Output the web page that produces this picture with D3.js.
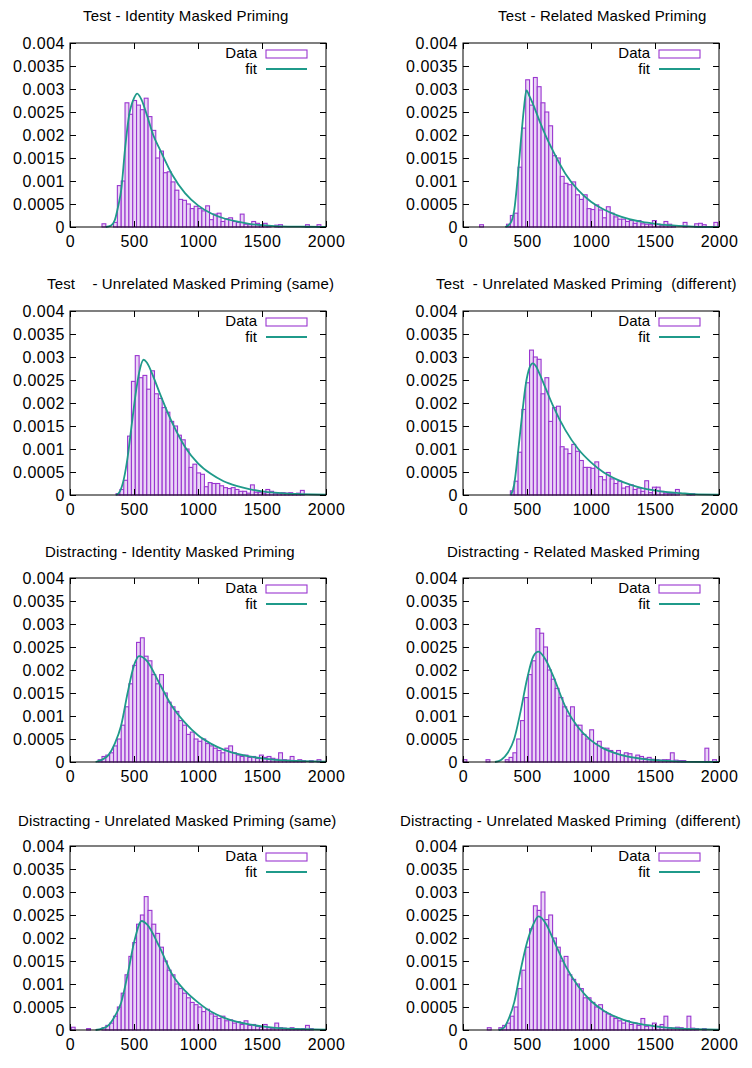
<!DOCTYPE html>
<html><head><meta charset="utf-8">
<script src="https://cdn.jsdelivr.net/npm/d3@7"></script>
<style>body{margin:0;background:#fff} text{font-family:"Liberation Sans",Arial,sans-serif;fill:#000}</style>
</head><body><svg id="c" width="752" height="1068"></svg>
<script>
// ---------- data ----------
const titles = [
  "Test - Identity Masked Priming",
  "Test - Related Masked Priming",
  "Test    - Unrelated Masked Priming (same)",
  "Test  - Unrelated Masked Priming  (different)",
  "Distracting - Identity Masked Priming",
  "Distracting - Related Masked Priming",
  "Distracting - Unrelated Masked Priming (same)",
  "Distracting - Unrelated Masked Priming  (different)"
];
const legendLabels = ["Data", "fit"];
const xTicks = [0, 500, 1000, 1500, 2000];
const xTickLabels = ["0", "500", "1000", "1500", "2000"];
const yTicks = [0, 0.0005, 0.001, 0.0015, 0.002, 0.0025, 0.003, 0.0035, 0.004];
const yTickLabels = ["0", "0.0005", "0.001", "0.0015", "0.002", "0.0025", "0.003", "0.0035", "0.004"];
const binWidth = 30;

// histogram bins: first bin left edge, then densities per 30 ms bin
const binStarts = [250, 130, 360, 370, 220, 0, 10, 190];
const hist1 = [0.00007,0,0,0.0001,0.0009,0.001,0.0027,0.00245,0.00275,0.00265,0.00255,0.0028,0.0024,0.0021,0.0015,0.00165,0.00118,0.0012,0.00098,0.0008,0.0006,0.00058,0.0005,0.0004,0.00045,0.0004,0.00035,0.00046,0.00016,0.00028,0.0003,0.00012,0.00018,0.0002,0.00012,0.0001,0.00028,0.00006,0.00005,0.00012,0.00008,0.00004,0.00008,0.00003,0,0.00004,0.00005,0,0,0,0,0,0,0.00005,0,0,0.00005];
const hist2 = [0.00005,0,0,0,0,0,0,0.00006,0.00025,0.0003,0.0013,0.00215,0.0032,0.00265,0.00325,0.00305,0.0027,0.0025,0.0022,0.00155,0.0015,0.0011,0.00095,0.00092,0.00098,0.0007,0.0006,0.0007,0.0004,0.00038,0.00048,0.00037,0.0002,0.00044,0.0003,0.00022,0.00017,0.00017,0.00012,0.00014,0.00008,0.00014,0.00007,0.00006,0.00005,0.00014,0.00006,0.00004,0.00012,0.00006,0.00003,0,0,0.0001,0,0,0.00007,0.00008,0.00005,0,0,0.0001];
const hist3 = [0.00003,0.00012,0.00032,0.00128,0.00247,0.00303,0.00255,0.0026,0.0023,0.0027,0.0022,0.0021,0.0019,0.0018,0.0016,0.0015,0.0013,0.0012,0.001,0.0006,0.00067,0.00048,0.00045,0.00018,0.00027,0.00025,0.00025,0.0002,0.00016,0.00014,0.00016,0.00012,0.00008,0.00008,0.00004,0.00022,0.00006,0.00006,0.00004,0.00012,0.00008,0.00004,0.00004,0.00005,0.00004,0.00005,0.00003,0.00004,0.0001];
const hist4 = [0.00009,0.0003,0.00093,0.00186,0.00244,0.00315,0.003,0.00295,0.0022,0.00255,0.0016,0.0019,0.00193,0.00105,0.001,0.0009,0.0011,0.00095,0.00075,0.0006,0.0006,0.00058,0.00072,0.0004,0.00033,0.00049,0.00035,0.00025,0.0003,0.00015,0.00018,0.00022,0.00012,0.00015,0.00008,0.00031,0.00005,0.00017,0.00017,0.00008,0.00004,0.00003,0.00003,0.00012,0,0,0.00003,0.00003];
const hist5 = [0.00005,0.00012,0.00015,0.0002,0.00035,0.0005,0.0008,0.0012,0.0017,0.0021,0.0026,0.0027,0.0023,0.0022,0.0019,0.0017,0.0019,0.0015,0.0013,0.0012,0.0011,0.0009,0.0008,0.0006,0.00065,0.0005,0.00045,0.0005,0.0004,0.00035,0.0003,0.00025,0.0002,0.0003,0.00035,0.0002,0.00015,0.00012,0.00015,0.0001,0.00012,0.00008,0.00015,0.0001,0.00012,0.00008,0.00006,0.0002,0.00005,0.00004,0.00012,0.00003,0.00005,0.00003,0,0.00003,0,0.00005];
const hist6 = [0.00005,0,0,0,0,0,0.00005,0,0,0,0,0.00005,0.0001,0.0002,0.0005,0.0009,0.0014,0.0019,0.0022,0.0029,0.0028,0.0025,0.002,0.0018,0.0016,0.0014,0.0012,0.001,0.0012,0.0008,0.0008,0.0006,0.0005,0.0007,0.0004,0.00045,0.0003,0.0003,0.00025,0.0002,0.00025,0.00015,0.0002,0.00018,0.0001,0.00015,0.00012,0.00008,0.0001,0.00006,0.00005,0.00004,0.00005,0.00005,0.0002,0.00004,0.00003,0.00003,0,0,0,0,0,0.0003,0,0.00005];
const hist7 = [0.00006,0,0,0,0.00003,0,0,0,0.00005,0.0001,0.00015,0.0003,0.0005,0.0008,0.0012,0.0016,0.0019,0.0023,0.0025,0.0029,0.0026,0.0023,0.0021,0.0018,0.0015,0.0013,0.0012,0.001,0.0009,0.0008,0.0007,0.0006,0.00055,0.0005,0.0004,0.00045,0.00035,0.0003,0.00025,0.0003,0.0002,0.00022,0.00015,0.00018,0.00012,0.0002,0.0001,0.00012,0.00008,0.00006,0.00012,0.00005,0.00004,0.00015,0.00005,0.00004,0.00003,0.00005,0.00003,0.00002,0.00003,0.0001,0.00003];
const hist8 = [0.00005,0,0,0.00005,0.0001,0.00015,0.0003,0.0005,0.0009,0.0013,0.0018,0.0022,0.0027,0.0026,0.003,0.0024,0.0025,0.002,0.0018,0.0015,0.0016,0.0012,0.0011,0.001,0.0009,0.0007,0.0007,0.0006,0.0005,0.00055,0.0004,0.00035,0.0003,0.00025,0.0002,0.00015,0.0002,0.00012,0.00015,0.0001,0.00025,0.00008,0.0001,0.00015,0.00008,0.00012,0.0003,0.00005,0.00004,0.00006,0.00005,0.00003,0.0003,0.00004,0.00003,0,0.00003];

// fitted density curves
const fit1X = [280,320,350,380,400,430,460,500,525,560,600,650,700,800,900,1000,1100,1200,1300,1400,1500,1600,1700,1850,2000];
const fit1Y = [0,0.00003,0.00015,0.0005,0.0008,0.0017,0.0024,0.0028,0.0029,0.00276,0.00244,0.002,0.0017,0.00113,0.00073,0.00047,0.0003,0.00019,0.00012,0.00007,0.00004,0.00002,0.00001,0.000005,0];
const fit2X = [330,370,400,430,450,475,495,520,550,600,650,700,800,900,1000,1100,1200,1300,1400,1500,1600,1800,2000];
const fit2Y = [0,0.00008,0.00036,0.00116,0.0018,0.00255,0.00297,0.00284,0.00265,0.00229,0.00196,0.00167,0.00116,0.0008,0.00055,0.00038,0.00026,0.00017,0.00011,0.00007,0.00004,0.00001,0];
const fit3X = [360,390,420,450,480,510,540,575,600,650,700,800,900,1000,1100,1200,1300,1400,1500,1600,1700,1800,2000];
const fit3Y = [0,0.00008,0.00034,0.00082,0.00148,0.00214,0.00266,0.00294,0.00288,0.00258,0.00222,0.00156,0.00104,0.00069,0.00046,0.0003,0.0002,0.00013,0.00008,0.00005,0.00003,0.00002,0.000005];
const fit4X = [375,400,430,460,490,520,545,570,600,650,700,800,900,1000,1100,1200,1300,1400,1500,1600,1700,1800,2000];
const fit4Y = [0,0.00023,0.00093,0.0017,0.0024,0.00277,0.00286,0.0028,0.00262,0.00229,0.00196,0.00141,0.001,0.00071,0.00049,0.00034,0.00023,0.00015,0.0001,0.00006,0.00004,0.00002,0.00001];
const fit5X = [200,250,300,350,400,450,500,540,600,700,800,900,1000,1100,1200,1300,1400,1500,1700,2000];
const fit5Y = [0,0.00005,0.00015,0.0004,0.0008,0.0015,0.0021,0.0023,0.0022,0.0017,0.0012,0.00085,0.00058,0.0004,0.00027,0.00018,0.00012,0.00008,0.00003,0.00001];
const fit6X = [250,300,350,400,450,500,550,590,650,700,800,900,1000,1100,1200,1300,1400,1500,1700,2000];
const fit6Y = [0,0.00005,0.0002,0.0005,0.0011,0.0018,0.0023,0.0024,0.0022,0.0019,0.0012,0.00075,0.00047,0.00029,0.00018,0.00011,0.00007,0.00004,0.00001,0];
const fit7X = [200,250,300,350,400,450,500,560,600,700,800,900,1000,1100,1200,1300,1400,1500,1700,2000];
const fit7Y = [0,0.00003,0.0001,0.0003,0.0006,0.0012,0.0019,0.00237,0.0023,0.0018,0.0012,0.00085,0.0006,0.0004,0.00027,0.00018,0.00012,0.00008,0.00003,0.00001];
const fit8X = [280,320,350,400,450,500,550,590,650,700,800,900,1000,1100,1200,1300,1400,1500,1700,2000];
const fit8Y = [0,0.00005,0.0002,0.0006,0.0013,0.0019,0.0023,0.00247,0.0023,0.002,0.0014,0.00095,0.00063,0.00042,0.00028,0.00018,0.00012,0.00008,0.00003,0.00001];

const hists = [hist1,hist2,hist3,hist4,hist5,hist6,hist7,hist8];
const fitXs = [fit1X,fit2X,fit3X,fit4X,fit5X,fit6X,fit7X,fit8X];
const fitYs = [fit1Y,fit2Y,fit3Y,fit4Y,fit5Y,fit6Y,fit7Y,fit8Y];

// ---------- layout ----------
const W = 256, H = 184;
const colX = [70, 463];
const rowY = [43, 311, 578, 846];
const titlePos = [[83,21],[498,21],[47,289],[436,289],[45,557],[447,557],[18,826],[400,826]];
const barColor = "#9a35d0";
const barTint = "#ead6f6";
const fitColor = "#1f9a8a";
const FONT = '"Liberation Sans",Arial,sans-serif';

const svg = d3.select("#c");

for (let p = 0; p < 8; p++) {
  const x0 = colX[p % 2], y0 = rowY[Math.floor(p / 2)];
  const x = d3.scaleLinear().domain([0, 2000]).range([x0, x0 + W]);
  const y = d3.scaleLinear().domain([0, 0.004]).range([y0 + H, y0]);
  const g = svg.append("g");

  // title
  g.append("text").attr("x", titlePos[p][0]).attr("y", titlePos[p][1])
    .style("white-space", "pre").attr("font-size", 15).attr("letter-spacing", 0.15)
    .attr("fill", "#111").text(titles[p]);

  // bars
  const bins = hists[p].map((v, i) => ({ x: binStarts[p] + i * binWidth, v })).filter(d => d.v > 0);
  g.append("g").selectAll("rect").data(bins).join("rect")
    .attr("x", d => x(d.x)).attr("width", d => x(d.x + binWidth) - x(d.x))
    .attr("y", d => y(d.v)).attr("height", d => y(0) - y(d.v))
    .attr("fill", barTint).attr("stroke", barColor).attr("stroke-width", 1.1);

  // fit
  const pts = fitXs[p].map((v, i) => [v, fitYs[p][i]]);
  g.append("path").datum(pts)
    .attr("d", d3.line().x(d => x(d[0])).y(d => y(d[1])).curve(d3.curveMonotoneX))
    .attr("fill", "none").attr("stroke", fitColor).attr("stroke-width", 1.8);

  // axes (inward ticks, mirrored)
  const ax = [];
  ax.push(g.append("g").attr("transform", `translate(${x0},0)`)
    .call(d3.axisLeft(y).tickValues(yTicks).tickFormat((d, i) => yTickLabels[i]).tickSize(-6).tickPadding(5)));
  ax.push(g.append("g").attr("transform", `translate(0,${y0 + H})`)
    .call(d3.axisBottom(x).tickValues(xTicks).tickFormat((d, i) => xTickLabels[i]).tickSize(-6).tickPadding(9)));
  ax.push(g.append("g").attr("transform", `translate(${x0 + W},0)`)
    .call(d3.axisRight(y).tickValues(yTicks).tickFormat("").tickSize(-6)));
  ax.push(g.append("g").attr("transform", `translate(0,${y0})`)
    .call(d3.axisTop(x).tickValues(xTicks).tickFormat("").tickSize(-6)));
  ax.forEach(a => {
    a.select(".domain").remove();
    a.attr("font-size", 16).attr("font-family", FONT);
    a.selectAll("text").attr("letter-spacing", 0.5).attr("fill", "#111");
    a.selectAll("line").attr("stroke", "#000");
  });
  g.append("rect").attr("x", x0).attr("y", y0).attr("width", W).attr("height", H)
    .attr("fill", "none").attr("stroke", "#000").attr("stroke-width", 1);

  // legend
  g.append("text").attr("x", x0 + 187).attr("y", y0 + 15).attr("text-anchor", "end")
    .attr("font-size", 15).attr("fill", "#111").text(legendLabels[0]);
  g.append("rect").attr("x", x0 + 196).attr("y", y0 + 7).attr("width", 41).attr("height", 8)
    .attr("fill", "none").attr("stroke", barColor).attr("stroke-width", 1.1);
  g.append("text").attr("x", x0 + 187).attr("y", y0 + 31).attr("text-anchor", "end")
    .attr("font-size", 15).attr("fill", "#111").text(legendLabels[1]);
  g.append("line").attr("x1", x0 + 196).attr("x2", x0 + 237).attr("y1", y0 + 26).attr("y2", y0 + 26)
    .attr("stroke", fitColor).attr("stroke-width", 1.8);
}
</script></body></html>
